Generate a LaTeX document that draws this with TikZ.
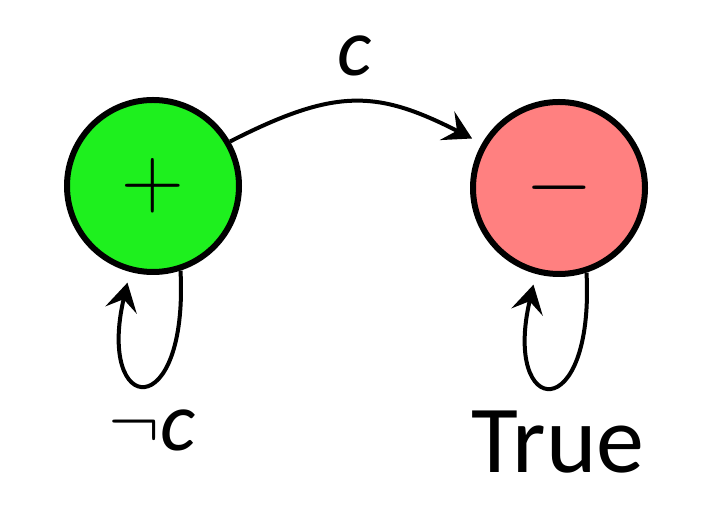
\documentclass[tikz,border=0pt]{standalone}
\usepackage{fontspec}
\setmainfont{Carlito}
\usetikzlibrary{arrows.meta}
\definecolor{posgreen}{RGB}{30,240,30}
\definecolor{negred}{RGB}{255,128,128}
\tikzset{state/.style={circle,draw=black,line width=6pt,minimum size=172pt,inner sep=0pt},
    trans/.style={line width=4pt,-{Stealth[length=28pt,width=32pt,inset=11pt]},shorten >=11pt},
    lbl/.style={inner sep=0pt}
}

\begin{document}
\begin{tikzpicture}[x=1pt,y=1pt]
                \useasboundingbox (0,0) rectangle (720,518);
                
                % States
                \node[state,fill=posgreen] (plus) at (153,332) {\scalebox{3.5}{\Huge$+$}};
                \node[state,fill=negred] (minus) at (559,330) {\scalebox{3.5}{\Huge$-$}};
                
                % Transition
                \draw[trans] (plus.30) to[out=27,in=153,looseness=1.2] (minus.150);
                
                % Self loops
                \draw[trans] (plus.-72) .. controls +(8,-155) and +(-34,-145) .. (plus.-105);
                \draw[trans] (minus.-72) .. controls +(8,-155) and +(-34,-145) .. (minus.-105);
                
                % Labels
                \node[lbl] (c) at (355,462) {\fontsize{82}{82}\selectfont\textit{c}};
                \node[lbl] (notc) at (152,88) {\raisebox{3pt}{\scalebox{3.1}{\Huge$\neg$}}\fontsize{84}{84}\selectfont\textit{c}};
                \node[lbl] (true) at (558,76) {\fontsize{96}{96}\selectfont True};
\end{tikzpicture}
\end{document}
